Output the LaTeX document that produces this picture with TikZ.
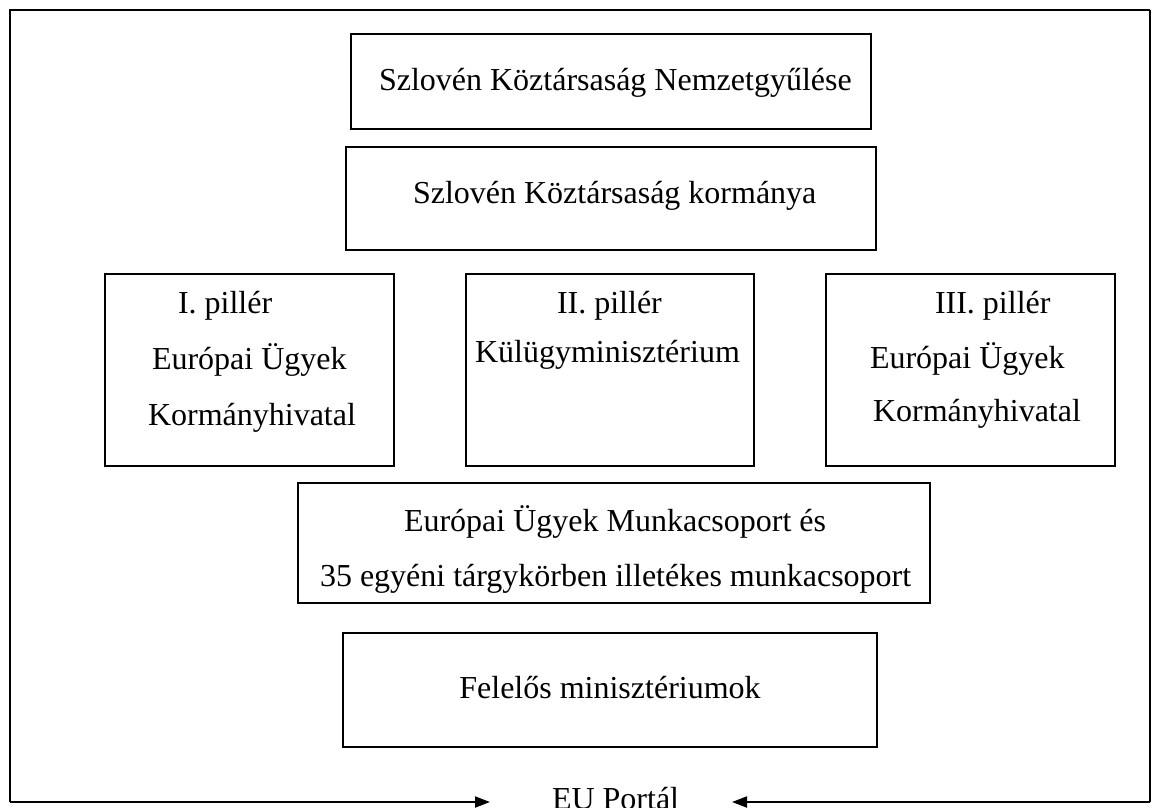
\documentclass[tikz,border=0pt]{standalone}
\usepackage{fontspec}
\setmainfont{Liberation Serif}
\usetikzlibrary{arrows.meta}
\begin{document}
\begin{tikzpicture}[x=1pt,y=-1pt,
  box/.style={draw,line width=1.6pt,inner sep=0pt,outer sep=0pt},
  txt/.style={inner sep=0pt,outer sep=0pt,anchor=base west,font=\fontsize{32}{38}\selectfont},
  frame/.style={line width=2pt},
  portarrow/.style={line width=2pt,-{Triangle[length=15pt,width=11pt]}}]
\useasboundingbox (0,0) rectangle (1152,807);
% boxes
\node[box,minimum width=520pt,minimum height=95pt] (nemzet) at (611,81.5) {};
\node[box,minimum width=530pt,minimum height=103pt] (korm) at (611,198.5) {};
\node[box,minimum width=289pt,minimum height=192pt] (p1) at (249.5,370) {};
\node[box,minimum width=288pt,minimum height=192pt] (p2) at (610,370) {};
\node[box,minimum width=289pt,minimum height=192pt] (p3) at (970.5,370) {};
\node[box,minimum width=632pt,minimum height=120pt] (munka) at (614,543) {};
\node[box,minimum width=534pt,minimum height=114pt] (felel) at (610,690) {};
% texts
\node[txt] (t1) at (379,90) {Szlovén Köztársaság Nemzetgyűlése};
\node[txt] (t2) at (413,203) {Szlovén Köztársaság kormánya};
\node[txt] (p1a) at (178,313) {I. pillér};
\node[txt] (p1b) at (152,369) {Európai Ügyek};
\node[txt] (p1c) at (148,425) {Kormányhivatal};
\node[txt] (p2a) at (557,313) {II. pillér};
\node[txt] (p2b) at (475,362) {Külügyminisztérium};
\node[txt] (p3a) at (935,313) {III. pillér};
\node[txt] (p3b) at (870,368) {Európai Ügyek};
\node[txt] (p3c) at (873,421) {Kormányhivatal};
\node[txt] (m1) at (404,531) {Európai Ügyek Munkacsoport és};
\node[txt] (m2) at (320,586) {35 egyéni tárgykörben illetékes munkacsoport};
\node[txt,anchor=base] (f1) at (610,698) {Felelős minisztériumok};
\node[txt] (eu) at (552,809) {EU Portál};
% frame
\coordinate (tl) at (10,10);
\coordinate (tr) at (1150,10);
\coordinate (bl) at (10,802);
\coordinate (br) at (1150,802);
\coordinate (la) at (490,802);
\coordinate (ra) at (732,802);
\draw[frame] (tr) -- (tl) -- (bl);
\draw[frame] (tr) -- (br);
\draw[portarrow] (bl) -- (la);
\draw[portarrow] (br) -- (ra);
\end{tikzpicture}
\end{document}
